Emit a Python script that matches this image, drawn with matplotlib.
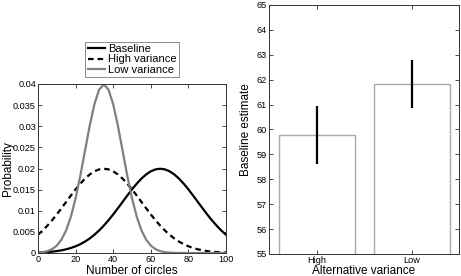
import matplotlib
matplotlib.use("Agg")
import matplotlib.pyplot as plt

plt.rcParams['font.family'] = ['Liberation Sans', 'DejaVu Sans']

# Lado izquierdo: densidades (x cada 2.5)
circles = [0, 2.5, 5, 7.5, 10, 12.5, 15, 17.5, 20, 22.5, 25, 27.5, 30, 32.5,
           35, 37.5, 40, 42.5, 45, 47.5, 50, 52.5, 55, 57.5, 60, 62.5, 65,
           67.5, 70, 72.5, 75, 77.5, 80, 82.5, 85, 87.5, 90, 92.5, 95, 97.5, 100]

baseline = [0.000102, 0.000151, 0.000222, 0.000320, 0.000455, 0.000636,
            0.000876, 0.001189, 0.001587, 0.002086, 0.002700, 0.003439,
            0.004314, 0.005327, 0.006476, 0.007751, 0.009132, 0.010594,
            0.012099, 0.013603, 0.015057, 0.016408, 0.017603, 0.018593,
            0.019333, 0.019792, 0.019947, 0.019792, 0.019333, 0.018593,
            0.017603, 0.016408, 0.015057, 0.013603, 0.012099, 0.010594,
            0.009132, 0.007751, 0.006476, 0.005327, 0.004314]

high_var = [0.004314, 0.005327, 0.006476, 0.007751, 0.009132, 0.010594,
            0.012099, 0.013603, 0.015057, 0.016408, 0.017603, 0.018593,
            0.019333, 0.019792, 0.019947, 0.019792, 0.019333, 0.018593,
            0.017603, 0.016408, 0.015057, 0.013603, 0.012099, 0.010594,
            0.009132, 0.007751, 0.006476, 0.005327, 0.004314, 0.003439,
            0.002700, 0.002086, 0.001587, 0.001189, 0.000876, 0.000636,
            0.000455, 0.000320, 0.000222, 0.000151, 0.000102]

low_var = [0.0000874, 0.000203, 0.000443, 0.000909, 0.001753, 0.003174,
           0.005399, 0.008628, 0.012952, 0.018265, 0.024197, 0.030114,
           0.035207, 0.038667, 0.039894, 0.038667, 0.035207, 0.030114,
           0.024197, 0.018265, 0.012952, 0.008628, 0.005399, 0.003174,
           0.001753, 0.000909, 0.000443, 0.000203, 0.0000874, 0.0000353,
           0.0000134, 0, 0, 0, 0, 0, 0, 0, 0, 0, 0]

# Lado derecho: barras con error
conditions = ["High", "Low"]
estimates = [59.77, 61.83]
errors = [1.17, 0.98]

W, H = 461, 276
fig = plt.figure(figsize=(W / 100, H / 100), dpi=100)

ax1 = fig.add_axes([38 / W, 1 - 253 / H, 188 / W, 169 / H])
ax1.plot(circles, baseline, color="k", lw=1.6, label="Baseline")
ax1.plot(circles, high_var, color="k", lw=1.6, ls=(0, (2.5, 1.8)), label="High variance")
ax1.plot(circles, low_var, color="#808080", lw=1.6, label="Low variance")
ax1.set_xlim(0, 100)
ax1.set_ylim(0, 0.04)
ax1.set_xticks([0, 20, 40, 60, 80, 100])
ax1.set_yticks([0, 0.005, 0.01, 0.015, 0.02, 0.025, 0.03, 0.035, 0.04])
ax1.set_yticklabels(["0", "0.005", "0.01", "0.015", "0.02", "0.025", "0.03", "0.035", "0.04"])
ax1.set_xlabel("Number of circles", fontsize=8.5)
ax1.set_ylabel("Probability", fontsize=8.5)
leg = ax1.legend(loc="lower center", bbox_to_anchor=(0.5, 1.04), fontsize=8,
                 frameon=True, fancybox=False, borderpad=0.2, labelspacing=0.05,
                 handlelength=1.6, handletextpad=0.2, borderaxespad=0)
leg.get_frame().set_edgecolor("#555555")
leg.get_frame().set_linewidth(0.6)

ax2 = fig.add_axes([269 / W, 1 - 254 / H, 190 / W, 249 / H])
ax2.bar([1, 2], estimates, width=0.8, bottom=0, color="white",
        edgecolor="#aaaaaa", linewidth=1.0)
ax2.errorbar([1, 2], estimates, yerr=errors, fmt="none", ecolor="k",
             elinewidth=1.6, capsize=0)
ax2.set_xlim(0.5, 2.5)
ax2.set_ylim(55, 65)
ax2.set_yticks(range(55, 66))
ax2.set_xticks([1, 2])
ax2.set_xticklabels(conditions)
ax2.set_xlabel("Alternative variance", fontsize=8.5)
ax2.set_ylabel("Baseline estimate", fontsize=8.5)

for ax in (ax1, ax2):
    ax.tick_params(direction="in", top=True, right=True, labelsize=6.6,
                   length=3, width=0.5, pad=1.5)
    for s in ax.spines.values():
        s.set_linewidth(0.7)
        s.set_color("#333333")

# posiciones de las etiquetas en pixeles de figura
ax1.xaxis.set_label_coords(0.5, -12 / 169, transform=ax1.transAxes)
ax1.xaxis.label.set_va("top")
ax1.yaxis.set_label_coords(-24 / 188, 0.5, transform=ax1.transAxes)
ax2.xaxis.set_label_coords(0.5, -11 / 249, transform=ax2.transAxes)
ax2.xaxis.label.set_va("top")
ax2.yaxis.set_label_coords(-17 / 190, 0.5, transform=ax2.transAxes)

fig.savefig("out.png", dpi=100)
